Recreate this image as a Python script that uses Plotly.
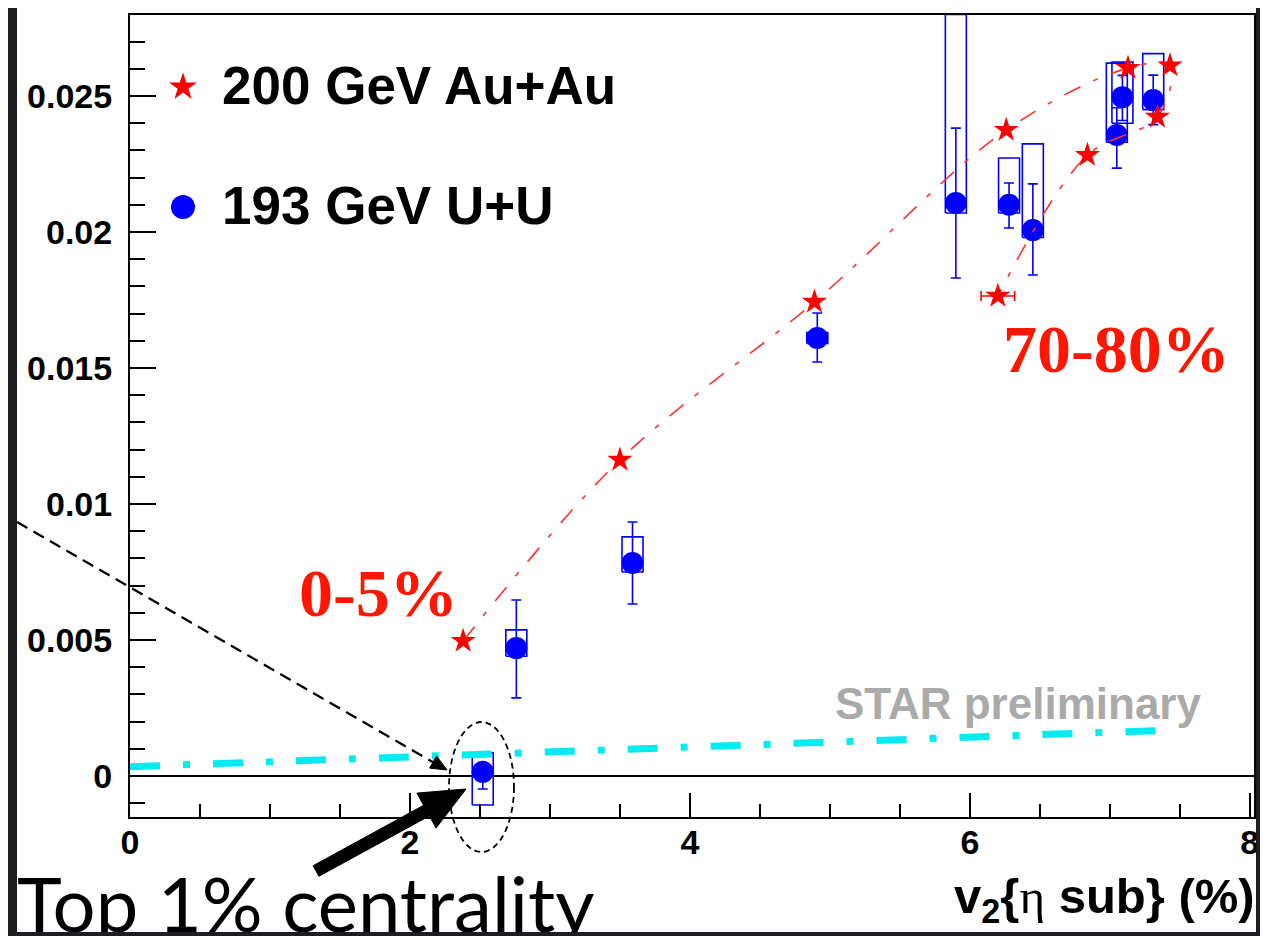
import plotly.graph_objects as go

# The page body has the browser's default 8px margin, so the figure is drawn
# 8px lower/right; all reference-pixel positions are shifted by OFF.
OFF = 8
REF_W, REF_H = 1268, 936
W, H = REF_W - OFF, REF_H - OFF

# ---------------- data ----------------
# 200 GeV Au+Au, centrality 0-5% ... 70-80%
auau_v2 = [2.38, 3.50, 4.89, 6.26, 7.13, 7.43, 7.34, 6.84, 6.20]
auau_y = [0.00496, 0.01162, 0.01743, 0.02375, 0.02603, 0.02612, 0.02423, 0.02283, 0.01765]
auau_xerr = [0, 0, 0, 0, 0, 0, 0, 0, 0.12]

# 193 GeV U+U
uu_v2 = [2.52, 2.76, 3.59, 4.91, 5.90, 6.28, 6.45, 7.05, 7.09, 7.31]
uu_y = [0.00015, 0.00470, 0.00783, 0.01610, 0.02107, 0.02100, 0.02007, 0.02357, 0.02496, 0.02485]
uu_err_hi = [0.00020, 0.00177, 0.00151, 0.00092, 0.00275, 0.00080, 0.00170, 0.00100, 0.00080, 0.00092]
uu_err_lo = [0.00063, 0.00183, 0.00151, 0.00088, 0.00276, 0.00085, 0.00165, 0.00122, 0.00086, 0.00090]
uu_sys_hi = [0.00085, 0.00537, 0.00879, 0.01630, 0.02800, 0.02272, 0.02324, 0.02621, 0.02625, 0.02656]
uu_sys_lo = [-0.00107, 0.00440, 0.00750, 0.01590, 0.02070, 0.02070, 0.01980, 0.02330, 0.02400, 0.02450]
sys_halfwidth = 0.075

# cyan dash-dot reference curve
cyan_x = [0.0, 3.12, 7.46]
cyan_y = [0.00034, 0.00088, 0.00169]

x_tickvals = [0, 2, 4, 6, 8]
x_ticktext = ["0", "2", "4", "6", "8"]
y_tickvals = [0, 0.005, 0.01, 0.015, 0.02, 0.025]
y_ticktext = ["0", "0.005", "0.01", "0.015", "0.02", "0.025"]

legend_labels = ["200 GeV Au+Au", "193 GeV U+U"]

RED = "#ff0000"
BLUE = "#0000ff"
BORDER = "#1c1e21"


def fx(x):  # reference pixel -> figure pixel
    return x - OFF


def fy(y):
    return y - OFF


def px(x):  # reference pixel -> paper fraction
    return fx(x) / W


def py(y):
    return 1 - fy(y) / H


fig = go.Figure()

# systematic boxes (U+U)
bx, by = [], []
for xv, lo, hi in zip(uu_v2, uu_sys_lo, uu_sys_hi):
    bx += [xv - sys_halfwidth, xv + sys_halfwidth, xv + sys_halfwidth, xv - sys_halfwidth, xv - sys_halfwidth, None]
    by += [lo, lo, hi, hi, lo, None]
fig.add_trace(go.Scatter(x=bx, y=by, mode="lines", line=dict(color=BLUE, width=1.6),
                         hoverinfo="skip", showlegend=False))

# cyan curve
fig.add_trace(go.Scatter(x=cyan_x, y=cyan_y, mode="lines",
                         line=dict(color="#00ecf0", width=7, dash="30px,23px,7px,23px"),
                         showlegend=False))

# U+U points
fig.add_trace(go.Scatter(
    x=uu_v2, y=uu_y, mode="markers",
    marker=dict(symbol="circle", size=22, color=BLUE),
    error_y=dict(type="data", symmetric=False, array=uu_err_hi, arrayminus=uu_err_lo,
                 color=BLUE, thickness=1.6, width=5),
    showlegend=False))

# Au+Au dashed curve
fig.add_trace(go.Scatter(x=auau_v2, y=auau_y, mode="lines",
                         line=dict(color="#ff3030", width=1.6, shape="spline",
                                   dash="18px,14px,5px,14px"),
                         showlegend=False))

# Au+Au horizontal error bar
ex = [(xv, yv, e) for xv, yv, e in zip(auau_v2, auau_y, auau_xerr) if e > 0]
fig.add_trace(go.Scatter(x=[p[0] for p in ex], y=[p[1] for p in ex], mode="markers",
                         marker=dict(size=1, color=RED),
                         error_x=dict(type="data", array=[p[2] for p in ex], color=RED,
                                      thickness=1.6, width=5),
                         showlegend=False))

# Au+Au stars
fig.add_trace(go.Scatter(x=auau_v2, y=auau_y, mode="markers",
                         marker=dict(symbol="star", size=19, color=RED),
                         showlegend=False))

# ---------- overlay (pixel coordinate) subplot ----------
fig.add_trace(go.Scatter(x=[fx(183)], y=[fy(87)], xaxis="x2", yaxis="y2", mode="markers",
                         marker=dict(symbol="star", size=21, color=RED), showlegend=False))
fig.add_trace(go.Scatter(x=[fx(183)], y=[fy(207)], xaxis="x2", yaxis="y2", mode="markers",
                         marker=dict(symbol="circle", size=24, color=BLUE), showlegend=False))
fig.add_trace(go.Scatter(x=[fx(17)], y=[fy(913)], xaxis="x2", yaxis="y2", mode="text",
                         text=["Top 1% centrality"], textposition="middle right",
                         textfont=dict(family="Lato", size=76, color="black"),
                         cliponaxis=False, showlegend=False))


def poly(pts):
    return "M " + " L ".join(f"{fx(x)},{fy(y)}" for x, y in pts) + " Z"


shapes = [
    # white slide area (paper layer, beneath every subplot)
    dict(type="rect", xref="paper", yref="paper", x0=px(17), x1=px(1256), y0=py(932), y1=1,
         fillcolor="white", line=dict(width=0), layer="below"),
    # dashed pointer line
    dict(type="line", xref="x2", yref="y2", x0=fx(17), y0=fy(522), x1=fx(436), y1=fy(764),
         line=dict(color="black", width=2.2, dash="12px,7px")),
    dict(type="path", xref="x2", yref="y2",
         path=poly([(447, 770), (429.6, 768.1), (436.6, 756.0)]),
         fillcolor="black", line=dict(color="black", width=1)),
    # dashed ellipse
    dict(type="circle", xref="x2", yref="y2", x0=fx(449), x1=fx(514), y0=fy(722), y1=fy(852),
         line=dict(color="black", width=1.8, dash="6px,4px")),
    # big solid arrow
    dict(type="path", xref="x2", yref="y2",
         path=poly([(318.9, 876.3), (429.4, 815.9), (436.1, 828.1), (466, 789),
                    (416.9, 793.1), (423.6, 805.3), (313.1, 865.7)]),
         fillcolor="black", line=dict(color="black", width=1)),
    # slide border strips (above everything)
    dict(type="rect", xref="paper", yref="paper", x0=0, x1=1, y0=0, y1=py(932),
         fillcolor=BORDER, line=dict(width=0), layer="above"),
    dict(type="rect", xref="paper", yref="paper", x0=px(1256), x1=1, y0=0, y1=1,
         fillcolor=BORDER, line=dict(width=0), layer="above"),
]


def ann(x, y, text, size, color="black", family="Liberation Sans", weight="bold",
        xanchor="center"):
    return dict(x=fx(x), y=fy(y), xref="x2", yref="y2", text=text, showarrow=False,
                xanchor=xanchor, yanchor="middle",
                font=dict(family=family, size=size, color=color, weight=weight))


annotations = [
    ann(220, 85, legend_labels[0], 53, xanchor="left"),
    ann(220, 205, legend_labels[1], 53, xanchor="left"),
    ann(378, 593, "0-5%", 68, color="#ff1500", family="Liberation Serif"),
    ann(1116, 349, "70-80%", 68, color="#ff1500", family="Liberation Serif"),
    ann(1018, 703, "STAR preliminary", 44, color="#aaaaaa"),
    ann(1257, 899,
        "v<sub>2</sub>{<span style='font-family:Liberation Serif;font-weight:normal'>η</span> sub} (%)",
        49, xanchor="right"),
]

tickfont = dict(family="Liberation Sans", size=34, color="black", weight="bold")

fig.update_layout(
    width=W, height=H,
    margin=dict(l=0, r=0, t=0, b=0, pad=0, autoexpand=False),
    paper_bgcolor=BORDER,
    plot_bgcolor="rgba(0,0,0,0)",
    showlegend=False,
    shapes=shapes,
    annotations=annotations,
    xaxis=dict(domain=[fx(130) / W, fx(1254) / W], range=[0, 8.03], anchor="y",
               automargin=False,
               tickmode="array", tickvals=x_tickvals, ticktext=x_ticktext,
               ticks="inside", ticklen=24, tickwidth=2, tickcolor="black",
               minor=dict(tickmode="linear", tick0=0, dtick=0.5, ticks="inside",
                          ticklen=13, tickwidth=2, tickcolor="black", showgrid=False),
               showline=True, linewidth=2, linecolor="black", mirror=True,
               showgrid=False, zeroline=False, tickfont=tickfont, ticklabelstandoff=-6),
    yaxis=dict(domain=[py(817), py(15)], range=[-0.00151, 0.02798], anchor="x",
               automargin=False,
               tickmode="array", tickvals=y_tickvals, ticktext=y_ticktext,
               ticks="inside", ticklen=26, tickwidth=2, tickcolor="black",
               minor=dict(tickmode="linear", tick0=0, dtick=0.001, ticks="inside",
                          ticklen=15, tickwidth=2, tickcolor="black", showgrid=False),
               showline=True, linewidth=2, linecolor="black", mirror=True,
               showgrid=False, zeroline=True, zerolinecolor="black", zerolinewidth=2,
               tickfont=tickfont, ticklabelstandoff=9),
    xaxis2=dict(domain=[0, 1], range=[0, W], anchor="y2", visible=False, fixedrange=True,
                automargin=False),
    yaxis2=dict(domain=[0, 1], range=[H, 0], anchor="x2", visible=False, fixedrange=True,
                automargin=False),
)

fig.write_html("out.html")
